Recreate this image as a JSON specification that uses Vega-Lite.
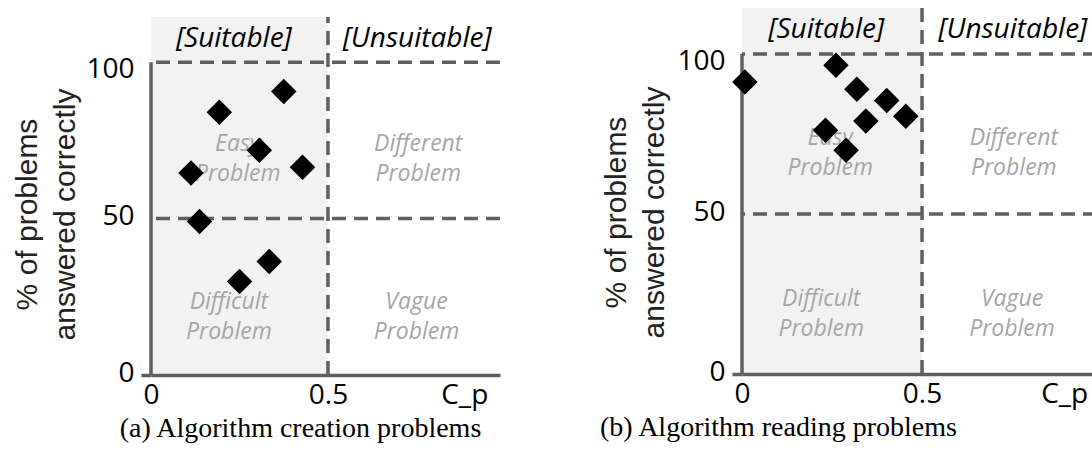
{
  "$schema": "https://vega.github.io/schema/vega-lite/v6.json",
  "padding": {"left": 11, "top": 6, "right": 0, "bottom": 0},
  "background": "white",
  "spacing": 97,
  "config": {"view": {"stroke": null}},
  "datasets": {
    "pa": [
      {"x": 0.113, "y": 64.6}, {"x": 0.137, "y": 49.1}, {"x": 0.193, "y": 84.0}, {"x": 0.375, "y": 90.6},
      {"x": 0.306, "y": 71.8}, {"x": 0.428, "y": 66.4}, {"x": 0.334, "y": 36.3}, {"x": 0.25, "y": 29.9}
    ],
    "pb": [
      {"x": 0.008, "y": 91.3}, {"x": 0.261, "y": 96.5}, {"x": 0.319, "y": 89.0}, {"x": 0.402, "y": 85.5},
      {"x": 0.344, "y": 79.1}, {"x": 0.455, "y": 80.6}, {"x": 0.232, "y": 76.2}, {"x": 0.289, "y": 69.9}
    ],
    "shade": [{"x": 0, "x2": 0.5, "y": 0, "y2": 114.4}],
    "hlines": [{"y": 100}, {"y": 50}],
    "vline": [{"x": 0.5, "y": 0, "y2": 114.4}],
    "yline": [{"x": 0, "y": 0, "y2": 100}],
    "regions": [
      {"x": 0.245, "y": 73.8, "label": "Easy\nProblem"},
      {"x": 0.755, "y": 73.8, "label": "Different\nProblem"},
      {"x": 0.22, "y": 23.3, "label": "Difficult\nProblem"},
      {"x": 0.75, "y": 23.3, "label": "Vague\nProblem"}
    ],
    "suit": [
      {"x": 0.234, "y": 107.4, "label": "[Suitable]"},
      {"x": 0.752, "y": 107.4, "label": "[Unsuitable]"}
    ]
  },
  "hconcat": [
    {
      "width": 349,
      "height": 367,
      "title": {"text": "(a) Algorithm creation problems", "orient": "bottom", "anchor": "middle", "frame": "group", "dx": -25, "offset": 6, "font": "Liberation Serif", "fontSize": 28, "fontWeight": "normal", "color": "black"},
      "layer": [
        {
          "data": {"name": "shade"},
          "mark": {"type": "rect", "color": "#f2f2f2"},
          "encoding": {
            "x": {"field": "x", "type": "quantitative", "scale": {"domain": [0, 0.986], "nice": false, "zero": false},
              "axis": {"values": [0, 0.5, 0.885], "labelExpr": "datum.value > 0.8 ? 'C_p' : (datum.value == 0.5 ? '0.5' : '0')", "title": null, "grid": false, "ticks": false, "domainColor": "#5f5f5f", "domainWidth": 3.5, "labelFont": "Open Sans", "labelFontSize": 28, "labelColor": "black", "labelPadding": 6, "labelFlush": false, "labelOverlap": false, "zindex": 1}},
            "x2": {"field": "x2"},
            "y": {"field": "y", "type": "quantitative", "scale": {"domain": [0, 117.3], "nice": false},
              "axis": {"values": [0, 50, 100], "format": "d", "title": ["% of problems", "answered correctly"], "domain": false, "grid": false, "ticks": true, "tickSize": 10, "tickWidth": 3.5,
                "tickColor": {"condition": {"test": "datum.value === 0", "value": "#5f5f5f"}, "value": "transparent"},
                "labelOffset": {"condition": {"test": "datum.value === 100", "value": 7}, "value": -2},
                "labelFont": "Open Sans", "labelFontSize": 28, "labelColor": "black", "labelPadding": 7,
                "titleFont": "Liberation Sans", "titleFontSize": 30, "titleFontWeight": "normal", "titleColor": "#222222", "titleLineHeight": 38,
                "titleX": -115, "titleY": 206, "titleAngle": -90, "titleAlign": "center", "titleBaseline": "alphabetic", "zindex": 1}},
            "y2": {"field": "y2"}
          }
        },
        {
          "data": {"name": "regions"},
          "mark": {"type": "text", "font": "Open Sans", "fontStyle": "italic", "fontSize": 23, "color": "#a6a6a6", "lineBreak": "\n", "lineHeight": 30, "baseline": "middle", "align": "center"},
          "encoding": {"x": {"field": "x", "type": "quantitative"}, "y": {"field": "y", "type": "quantitative"}, "text": {"field": "label"}}
        },
        {
          "data": {"name": "hlines"},
          "mark": {"type": "rule", "color": "#5f5f5f", "strokeWidth": 3.5, "strokeDash": [14, 8]},
          "encoding": {"y": {"field": "y", "type": "quantitative"}}
        },
        {
          "data": {"name": "vline"},
          "mark": {"type": "rule", "color": "#5f5f5f", "strokeWidth": 3.5, "strokeDash": [14, 8]},
          "encoding": {"x": {"field": "x", "type": "quantitative"}, "y": {"field": "y", "type": "quantitative"}, "y2": {"field": "y2"}}
        },
        {
          "data": {"name": "yline"},
          "mark": {"type": "rule", "color": "#5f5f5f", "strokeWidth": 3.5},
          "encoding": {"x": {"field": "x", "type": "quantitative"}, "y": {"field": "y", "type": "quantitative"}, "y2": {"field": "y2"}}
        },
        {
          "data": {"name": "pa"},
          "mark": {"type": "point", "shape": "diamond", "filled": true, "color": "black", "opacity": 1, "size": 650},
          "encoding": {"x": {"field": "x", "type": "quantitative"}, "y": {"field": "y", "type": "quantitative"}}
        },
        {
          "data": {"name": "suit"},
          "mark": {"type": "text", "font": "Open Sans", "fontStyle": "italic", "fontSize": 28, "color": "black", "baseline": "middle", "align": "center"},
          "encoding": {"x": {"field": "x", "type": "quantitative"}, "y": {"field": "y", "type": "quantitative"}, "text": {"field": "label"}}
        }
      ]
    },
    {
      "width": 355,
      "height": 366,
      "title": {"text": "(b) Algorithm reading problems", "orient": "bottom", "anchor": "middle", "frame": "group", "dx": -141, "offset": 6, "font": "Liberation Serif", "fontSize": 28, "fontWeight": "normal", "color": "black"},
      "layer": [
        {
          "data": {"name": "shade"},
          "mark": {"type": "rect", "color": "#f2f2f2"},
          "encoding": {
            "x": {"field": "x", "type": "quantitative", "scale": {"domain": [0, 0.986], "nice": false, "zero": false},
              "axis": {"values": [0, 0.5, 0.895], "labelExpr": "datum.value > 0.8 ? 'C_p' : (datum.value == 0.5 ? '0.5' : '0')", "title": null, "grid": false, "ticks": false, "domainColor": "#5f5f5f", "domainWidth": 3.5, "labelFont": "Open Sans", "labelFontSize": 28, "labelColor": "black", "labelPadding": 6, "labelFlush": false, "labelOverlap": false, "zindex": 1}},
            "x2": {"field": "x2"},
            "y": {"field": "y", "type": "quantitative", "scale": {"domain": [0, 114.4], "nice": false},
              "axis": {"values": [0, 50, 100], "format": "d", "title": ["% of problems", "answered correctly"], "domain": false, "grid": false, "ticks": true, "tickSize": 10, "tickWidth": 3.5,
                "tickColor": {"condition": {"test": "datum.value === 0", "value": "#5f5f5f"}, "value": "transparent"},
                "labelOffset": {"condition": {"test": "datum.value === 100", "value": 7}, "value": -2},
                "labelFont": "Open Sans", "labelFontSize": 28, "labelColor": "black", "labelPadding": 7,
                "titleFont": "Liberation Sans", "titleFontSize": 30, "titleFontWeight": "normal", "titleColor": "#222222", "titleLineHeight": 38,
                "titleX": -117, "titleY": 204, "titleAngle": -90, "titleAlign": "center", "titleBaseline": "alphabetic", "zindex": 1}},
            "y2": {"field": "y2"}
          }
        },
        {
          "data": {"name": "regions"},
          "mark": {"type": "text", "font": "Open Sans", "fontStyle": "italic", "fontSize": 23, "color": "#a6a6a6", "lineBreak": "\n", "lineHeight": 30, "baseline": "middle", "align": "center"},
          "encoding": {"x": {"field": "x", "type": "quantitative"}, "y": {"field": "y", "type": "quantitative"}, "text": {"field": "label"}}
        },
        {
          "data": {"name": "hlines"},
          "mark": {"type": "rule", "color": "#5f5f5f", "strokeWidth": 3.5, "strokeDash": [14, 8]},
          "encoding": {"y": {"field": "y", "type": "quantitative"}}
        },
        {
          "data": {"name": "vline"},
          "mark": {"type": "rule", "color": "#5f5f5f", "strokeWidth": 3.5, "strokeDash": [14, 8]},
          "encoding": {"x": {"field": "x", "type": "quantitative"}, "y": {"field": "y", "type": "quantitative"}, "y2": {"field": "y2"}}
        },
        {
          "data": {"name": "yline"},
          "mark": {"type": "rule", "color": "#5f5f5f", "strokeWidth": 3.5},
          "encoding": {"x": {"field": "x", "type": "quantitative"}, "y": {"field": "y", "type": "quantitative"}, "y2": {"field": "y2"}}
        },
        {
          "data": {"name": "pb"},
          "mark": {"type": "point", "shape": "diamond", "filled": true, "color": "black", "opacity": 1, "size": 650},
          "encoding": {"x": {"field": "x", "type": "quantitative"}, "y": {"field": "y", "type": "quantitative"}}
        },
        {
          "data": {"name": "suit"},
          "mark": {"type": "text", "font": "Open Sans", "fontStyle": "italic", "fontSize": 28, "color": "black", "baseline": "middle", "align": "center"},
          "encoding": {"x": {"field": "x", "type": "quantitative"}, "y": {"field": "y", "type": "quantitative"}, "text": {"field": "label"}}
        }
      ]
    }
  ]
}
